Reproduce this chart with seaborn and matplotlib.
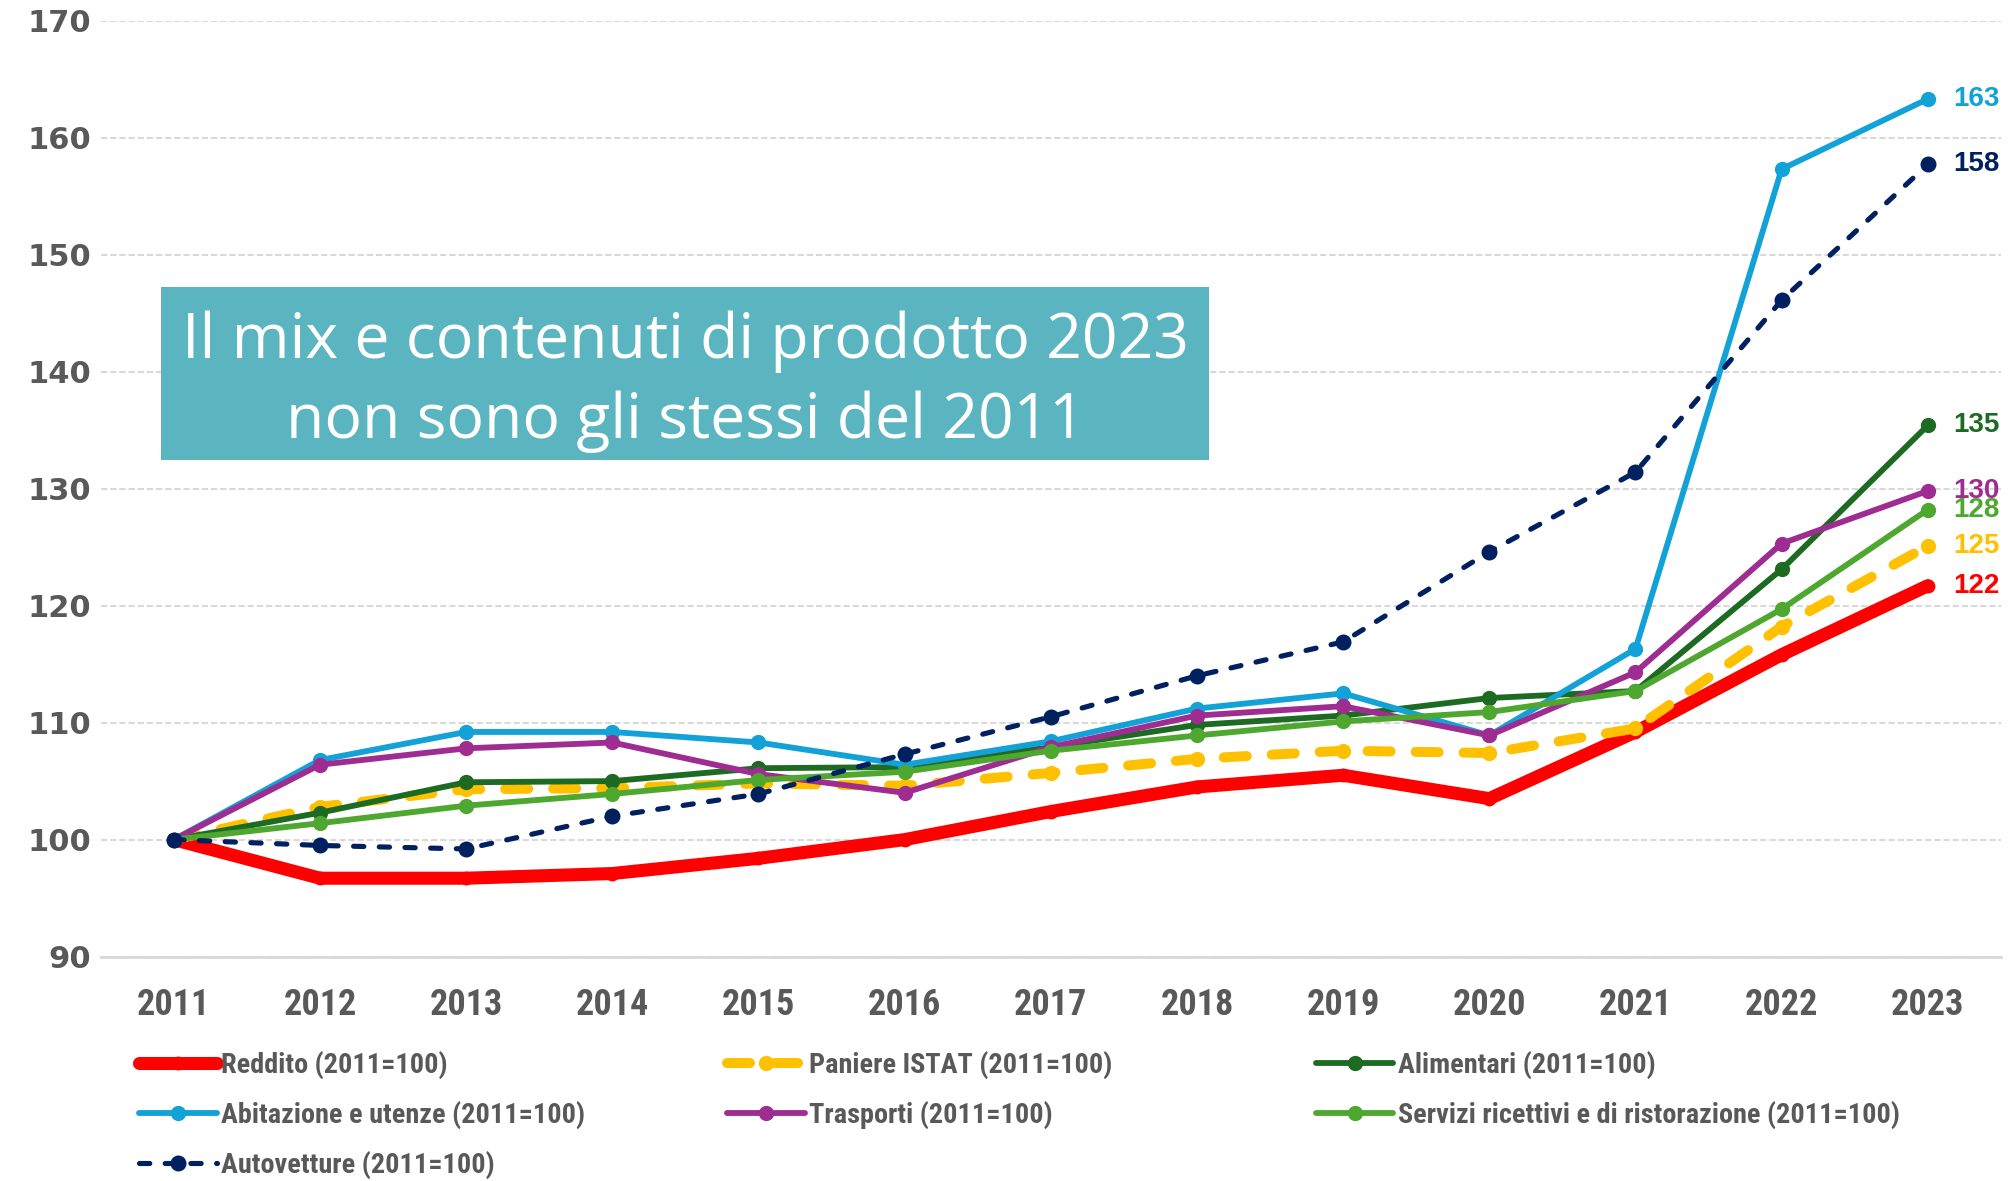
"""Indici dei prezzi per capitolo di spesa vs reddito (2011=100)."""

import matplotlib
matplotlib.use("Agg")
import matplotlib.pyplot as plt
from matplotlib.patches import Rectangle
import pandas as pd
import seaborn as sns

sns.set_style("white")
plt.rcParams["font.family"] = ["DejaVu Sans"]

DPI = 100
GRAY = "#595959"
NARROW = ["Roboto Condensed", "Open Sans Condensed", "IBM Plex Sans Condensed", "DejaVu Sans"]

# ── dati ────────────────────────────────────────────────
years = list(range(2011, 2024))

reddito = [100, 96.7, 96.7, 97.1, 98.4, 100.0, 102.4, 104.5, 105.5, 103.5, 109.2, 115.8, 121.7]
paniere = [100, 102.8, 104.3, 104.4, 104.8, 104.6, 105.7, 106.9, 107.6, 107.4, 109.5, 118.2, 125.1]
alimentari = [100, 102.3, 104.9, 105.0, 106.1, 106.2, 107.9, 109.8, 110.6, 112.1, 112.7, 123.1, 135.4]
abitazione = [100, 106.8, 109.2, 109.2, 108.3, 106.4, 108.4, 111.2, 112.5, 108.9, 116.3, 157.3, 163.3]
trasporti = [100, 106.4, 107.8, 108.3, 105.6, 104.0, 107.9, 110.6, 111.4, 108.9, 114.3, 125.3, 129.8]
servizi = [100, 101.4, 102.9, 103.9, 105.1, 105.8, 107.6, 108.9, 110.1, 110.9, 112.7, 119.7, 128.2]
autovetture = [100, 99.5, 99.2, 102.0, 103.9, 107.3, 110.5, 114.0, 116.9, 124.6, 131.4, 146.1, 157.7]

series_names = [
    "Reddito (2011=100)",
    "Paniere ISTAT (2011=100)",
    "Alimentari (2011=100)",
    "Abitazione e utenze (2011=100)",
    "Trasporti (2011=100)",
    "Servizi ricettivi e di ristorazione (2011=100)",
    "Autovetture (2011=100)",
]
series_values = [reddito, paniere, alimentari, abitazione, trasporti, servizi, autovetture]

box_text = "Il mix e contenuti di prodotto 2023\nnon sono gli stessi del 2011"

# stile per serie: colore, spessore, tratteggio, marker
styles = {
    "Reddito (2011=100)": dict(color="#FF0000", lw=9.4, ls="-", ms=10),
    "Paniere ISTAT (2011=100)": dict(color="#FFC000", lw=7.2, ls=(0, (2.3, 2.5)), ms=11),
    "Alimentari (2011=100)": dict(color="#1D6B23", lw=4.2, ls="-", ms=11),
    "Abitazione e utenze (2011=100)": dict(color="#12A2D8", lw=4.2, ls="-", ms=11),
    "Trasporti (2011=100)": dict(color="#9E2C91", lw=4.2, ls="-", ms=11),
    "Servizi ricettivi e di ristorazione (2011=100)": dict(color="#4EA72E", lw=4.2, ls="-", ms=11),
    "Autovetture (2011=100)": dict(color="#002060", lw=3.7, ls=(0, (2.0, 3.0)), ms=11.5),
}

df = pd.concat(
    [pd.DataFrame({"anno": years, "indice": vals, "serie": name})
     for name, vals in zip(series_names, series_values)],
    ignore_index=True,
)

fig = plt.figure(figsize=(20.15, 11.81), dpi=DPI)
ax = fig.add_axes([0.050, 0.190, 0.943, 0.7926])

handles = {}
for name in series_names:
    st = styles[name]
    sub = df[df["serie"] == name]
    sns.lineplot(data=sub, x="anno", y="indice", ax=ax, legend=False,
                 color=st["color"], linewidth=st["lw"], linestyle=st["ls"],
                 marker="o", markersize=st["ms"], markeredgewidth=0,
                 markeredgecolor=st["color"], markerfacecolor=st["color"],
                 dash_capstyle="round", solid_capstyle="round", label=name)
    handles[name] = ax.get_lines()[-1]

    # etichetta valore finale
    last = sub["indice"].iloc[-1]
    ax.annotate(f"{last:.0f}", xy=(sub["anno"].iloc[-1], last), xytext=(18, 0),
                textcoords="offset points", va="center", ha="left",
                fontsize=20, fontweight="bold", color=st["color"],
                family=["Liberation Sans", "DejaVu Sans"], annotation_clip=False)

ax.set_xlim(2010.5, 2023.5)
ax.set_ylim(90, 170)
ax.set_xticks(years)
ax.set_yticks(range(90, 171, 10))
ax.set_xlabel("")
ax.set_ylabel("")
ax.grid(axis="y", color="#D9D9D9", linestyle=(0, (3, 1.4)), linewidth=1.5)
ax.grid(axis="x", visible=False)
ax.set_axisbelow(True)
for side in ["top", "right", "left"]:
    ax.spines[side].set_visible(False)
ax.spines["bottom"].set_color("#D9D9D9")
ax.spines["bottom"].set_linewidth(2)
ax.tick_params(axis="both", length=0)
ax.tick_params(axis="x", pad=22)
ax.tick_params(axis="y", pad=7)
for lab in ax.get_yticklabels():
    lab.set_fontsize(22)
    lab.set_fontweight("bold")
    lab.set_color(GRAY)
for lab in ax.get_xticklabels():
    lab.set_fontsize(26)
    lab.set_fontweight("bold")
    lab.set_color(GRAY)
    lab.set_family(NARROW)

# riquadro testo
fig.add_artist(Rectangle((0.0797, 0.6105), 0.5203, 0.1468, transform=fig.transFigure,
                         facecolor="#5AB5C0", edgecolor="none", zorder=5))
fig.text(0.340, 0.677, box_text, ha="center", va="center", color="white",
         fontsize=45, family=["Open Sans", "DejaVu Sans"], linespacing=1.36, zorder=6)

# legenda: tre colonne posizionate a mano
columns = [
    (0.069, ["Reddito (2011=100)", "Abitazione e utenze (2011=100)", "Autovetture (2011=100)"]),
    (0.361, ["Paniere ISTAT (2011=100)", "Trasporti (2011=100)"]),
    (0.653, ["Alimentari (2011=100)", "Servizi ricettivi e di ristorazione (2011=100)"]),
]
for x0, names in columns:
    leg = fig.legend([handles[n] for n in names], names, loc="upper left",
                     bbox_to_anchor=(x0, 0.110), frameon=False, borderpad=0,
                     borderaxespad=0, handlelength=2.75, handletextpad=0.15,
                     labelspacing=0.77, numpoints=1,
                     prop={"family": NARROW, "weight": "bold", "size": 20.3})
    for t in leg.get_texts():
        t.set_color(GRAY)

fig.savefig("out.png", dpi=DPI)
plt.close(fig)
